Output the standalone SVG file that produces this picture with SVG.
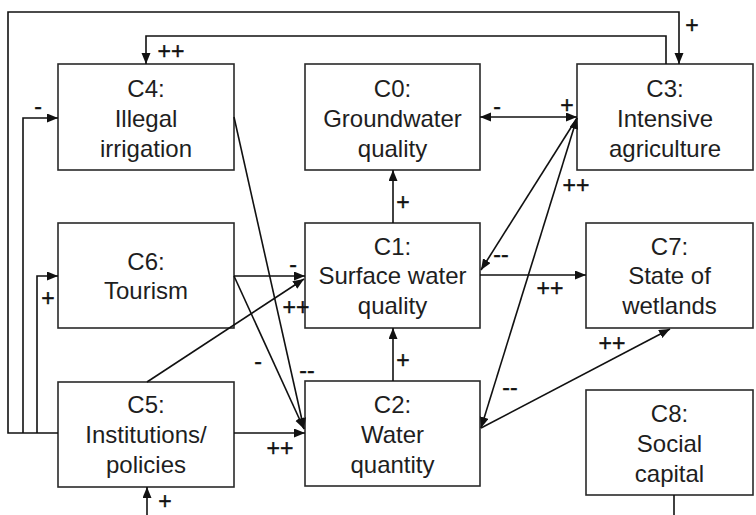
<svg xmlns="http://www.w3.org/2000/svg" width="756" height="515" viewBox="0 0 756 515">
  <style>
    .box { fill: #ffffff; stroke: #2a2a2a; stroke-width: 1.6; }
    .name { font-family: "Liberation Sans", Arial, sans-serif; font-size: 24px; fill: #1e1e1e; text-anchor: middle; }
    .edge { fill: none; stroke: #111111; stroke-width: 1.6; }
    .sign { font-family: "Liberation Sans", Arial, sans-serif; font-size: 23px; fill: #111111; text-anchor: middle; stroke: #111111; stroke-width: 0.4; }
  </style>
  <defs>
    <marker id="arrow" markerUnits="userSpaceOnUse" markerWidth="12" markerHeight="10" refX="11" refY="4.5" orient="auto-start-reverse">
      <path d="M0,0 L11,4.5 L0,9 z" fill="#111111"/>
    </marker>
  </defs>

  <rect width="756" height="515" fill="#ffffff"/>

  <!-- concepts -->
  <g id="C4">
    <rect class="box" x="58" y="64" width="176" height="106"/>
    <text class="name" x="146" y="97">C4:</text>
    <text class="name" x="146" y="127">Illegal</text>
    <text class="name" x="146" y="157">irrigation</text>
  </g>
  <g id="C0">
    <rect class="box" x="305" y="64" width="175" height="106"/>
    <text class="name" x="392.5" y="97">C0:</text>
    <text class="name" x="392.5" y="127">Groundwater</text>
    <text class="name" x="392.5" y="157">quality</text>
  </g>
  <g id="C3">
    <rect class="box" x="577" y="64" width="176" height="106"/>
    <text class="name" x="665" y="97">C3:</text>
    <text class="name" x="665" y="127">Intensive</text>
    <text class="name" x="665" y="157">agriculture</text>
  </g>
  <g id="C6">
    <rect class="box" x="58" y="223" width="176" height="105"/>
    <text class="name" x="146" y="270">C6:</text>
    <text class="name" x="146" y="299">Tourism</text>
  </g>
  <g id="C1">
    <rect class="box" x="305" y="223" width="175" height="105"/>
    <text class="name" x="392.5" y="255">C1:</text>
    <text class="name" x="392.5" y="284">Surface water</text>
    <text class="name" x="392.5" y="314">quality</text>
  </g>
  <g id="C7">
    <rect class="box" x="586" y="223" width="167" height="105"/>
    <text class="name" x="669.5" y="255">C7:</text>
    <text class="name" x="669.5" y="284">State of</text>
    <text class="name" x="669.5" y="314">wetlands</text>
  </g>
  <g id="C5">
    <rect class="box" x="58" y="382" width="176" height="105"/>
    <text class="name" x="146" y="413">C5:</text>
    <text class="name" x="146" y="443">Institutions/</text>
    <text class="name" x="146" y="473">policies</text>
  </g>
  <g id="C2">
    <rect class="box" x="305" y="381" width="175" height="105"/>
    <text class="name" x="392.5" y="413">C2:</text>
    <text class="name" x="392.5" y="443">Water</text>
    <text class="name" x="392.5" y="473">quantity</text>
  </g>
  <g id="C8">
    <rect class="box" x="586" y="390" width="167" height="105"/>
    <text class="name" x="669.5" y="422">C8:</text>
    <text class="name" x="669.5" y="452">Social</text>
    <text class="name" x="669.5" y="482">capital</text>
  </g>

  <!-- causal links -->
  <g id="connectors">
    <path class="edge" d="M58,433 H8 V12 H679 V64" marker-end="url(#arrow)"/>
    <path class="edge" d="M23,433 V118 H58" marker-end="url(#arrow)"/>
    <path class="edge" d="M37,433 V276 H58" marker-end="url(#arrow)"/>
    <path class="edge" d="M666,64 V36 H146 V64" marker-end="url(#arrow)"/>
    <path class="edge" d="M480,117 H577" marker-start="url(#arrow)" marker-end="url(#arrow)"/>
    <path class="edge" d="M393,223 V170" marker-end="url(#arrow)"/>
    <path class="edge" d="M393,381 V328" marker-end="url(#arrow)"/>
    <path class="edge" d="M480,275 H586" marker-end="url(#arrow)"/>
    <path class="edge" d="M234,276 H305" marker-end="url(#arrow)"/>
    <path class="edge" d="M147,382 L304,279" marker-end="url(#arrow)"/>
    <path class="edge" d="M234,276 L304,429" marker-end="url(#arrow)"/>
    <path class="edge" d="M234,117 L304,429" marker-end="url(#arrow)"/>
    <path class="edge" d="M234,433 H305" marker-end="url(#arrow)"/>
    <path class="edge" d="M577,118 L481,270" marker-end="url(#arrow)"/>
    <path class="edge" d="M577,118 L481,428" marker-start="url(#arrow)" marker-end="url(#arrow)"/>
    <path class="edge" d="M481,428 L670,329" marker-end="url(#arrow)"/>
    <path class="edge" d="M147,515 V487" marker-end="url(#arrow)"/>
    <path class="edge" d="M674,495 V515"/>

    <!-- link signs -->
    <text class="sign" x="692" y="33">+</text>
    <text class="sign" x="171" y="59">++</text>
    <text class="sign" x="38" y="114">-</text>
    <text class="sign" x="48" y="306">+</text>
    <text class="sign" x="497" y="114">-</text>
    <text class="sign" x="567" y="113">+</text>
    <text class="sign" x="403" y="210">+</text>
    <text class="sign" x="576" y="193">++</text>
    <text class="sign" x="501" y="262">--</text>
    <text class="sign" x="293" y="272">-</text>
    <text class="sign" x="296" y="315">++</text>
    <text class="sign" x="550" y="296">++</text>
    <text class="sign" x="612" y="351">++</text>
    <text class="sign" x="258" y="369">-</text>
    <text class="sign" x="307" y="378">--</text>
    <text class="sign" x="403" y="368">+</text>
    <text class="sign" x="510" y="395">--</text>
    <text class="sign" x="280" y="456">++</text>
    <text class="sign" x="165" y="509">+</text>
  </g>
</svg>
